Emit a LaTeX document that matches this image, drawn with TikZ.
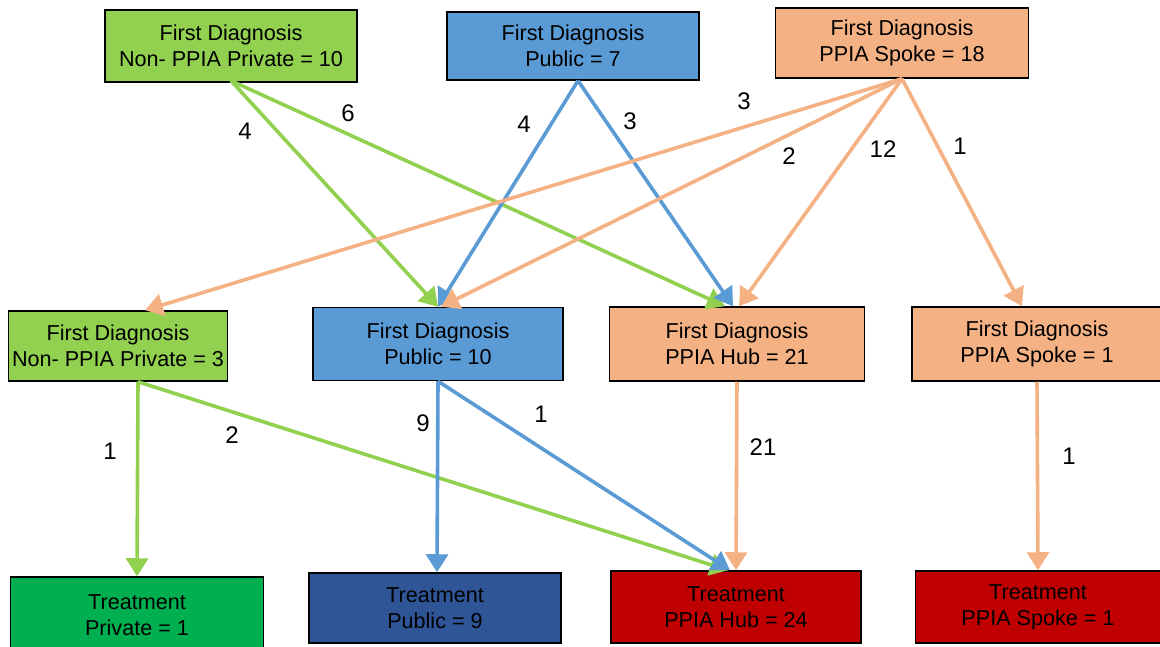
\documentclass[tikz,border=0pt]{standalone}
\usepackage{fontspec}
\setmainfont{Liberation Sans}
\usepackage{xcolor}
\usetikzlibrary{arrows.meta}
\definecolor{lgreen}{HTML}{92D050}
\definecolor{lblue}{HTML}{5B9BD5}
\definecolor{lorange}{HTML}{F4B183}
\definecolor{dgreen}{HTML}{00B050}
\definecolor{dblue}{HTML}{2F5597}
\definecolor{dred}{HTML}{C00000}
\tikzset{
  box/.style={draw=black, line width=1.5pt, align=center, inner sep=0pt,
    font=\fontsize{21.6}{26}\selectfont},
  num/.style={font=\fontsize{24}{26}\selectfont},
  flow/.style={line width=3.6pt, -{Triangle[length=18pt,width=22pt]}}
}

\begin{document}
\begin{tikzpicture}[x=1pt,y=-1pt]
 \useasboundingbox (0,0) rectangle (1160,647);
 % first diagnosis, top row
 \node[box, fill=lgreen, minimum width=252pt, minimum height=72pt] (a1) at (231,46) {First Diagnosis\\Non- PPIA Private = 10};
 \node[box, fill=lblue, minimum width=252pt, minimum height=68pt] (a2) at (573,46) {First Diagnosis\\Public = 7};
 \node[box, fill=lorange, minimum width=253pt, minimum height=70pt] (a3) at (902,43) {First Diagnosis\\PPIA Spoke = 18};
 % first diagnosis, middle row
 \node[box, fill=lgreen, minimum width=219pt, minimum height=70pt] (b1) at (118,346) {First Diagnosis\\Non- PPIA Private = 3};
 \node[box, fill=lblue, minimum width=250pt, minimum height=73pt] (b2) at (438,344) {First Diagnosis\\Public = 10};
 \node[box, fill=lorange, minimum width=255pt, minimum height=74pt] (b3) at (737,344) {First Diagnosis\\PPIA Hub = 21};
 \node[box, fill=lorange, minimum width=250pt, minimum height=74pt] (b4) at (1037,344) {First Diagnosis\\PPIA Spoke = 1};
 % treatment, bottom row
 \node[box, fill=dgreen, minimum width=253pt, minimum height=76pt] (c1) at (137,615) {Treatment\\Private = 1};
 \node[box, fill=dblue, minimum width=252pt, minimum height=70pt] (c2) at (435,608) {Treatment\\Public = 9};
 \node[box, fill=dred, minimum width=250pt, minimum height=72pt] (c3) at (736,607) {Treatment\\PPIA Hub = 24};
 \node[box, fill=dred, minimum width=245pt, minimum height=72pt] (c4) at (1038,607) {Treatment\\PPIA Spoke = 1};
 % connectors, top to middle
 \draw[flow, lgreen] ([yshift=2]a1.south) -- (b2.north);
 \draw[flow, lgreen] ([yshift=2]a1.south) -- ([xshift=-12]b3.north);
 \draw[flow, lblue] ([xshift=5]a2.south) -- (b2.north);
 \draw[flow, lblue] ([xshift=5]a2.south) -- ([xshift=-4]b3.north);
 \draw[flow, lorange] (a3.south) -- ([xshift=27]b1.north);
 \draw[flow, lorange] (a3.south) -- ([xshift=3]b2.north);
 \draw[flow, lorange] (a3.south) -- ([xshift=2]b3.north);
 \draw[flow, lorange] (a3.south) -- ([xshift=-15]b4.north);
 % connectors, middle to bottom
 \draw[flow, lgreen] ([xshift=20]b1.south) -- (c1.north);
 \draw[flow, lgreen] ([xshift=20]b1.south) -- ([xshift=-8]c3.north);
 \draw[flow, lblue] (b2.south) -- ([xshift=2]c2.north);
 \draw[flow, lblue] (b2.south) -- ([xshift=-6]c3.north);
 \draw[flow, lorange] (b3.south) -- (c3.north);
 \draw[flow, lorange] (b4.south) -- (c4.north);
 % counts
 \node[num] (n1) at (245,131) {4};
 \node[num] (n2) at (348,113) {6};
 \node[num] (n3) at (524,124) {4};
 \node[num] (n4) at (630,121) {3};
 \node[num] (n5) at (744,101) {3};
 \node[num] (n6) at (789,156) {2};
 \node[num] (n7) at (883,149) {12};
 \node[num] (n8) at (960,146) {1};
 \node[num] (n9) at (110,451) {1};
 \node[num] (n10) at (232,435) {2};
 \node[num] (n11) at (423,423) {9};
 \node[num] (n12) at (541,414) {1};
 \node[num] (n13) at (763,447) {21};
 \node[num] (n14) at (1069,456) {1};
\end{tikzpicture}
\end{document}
